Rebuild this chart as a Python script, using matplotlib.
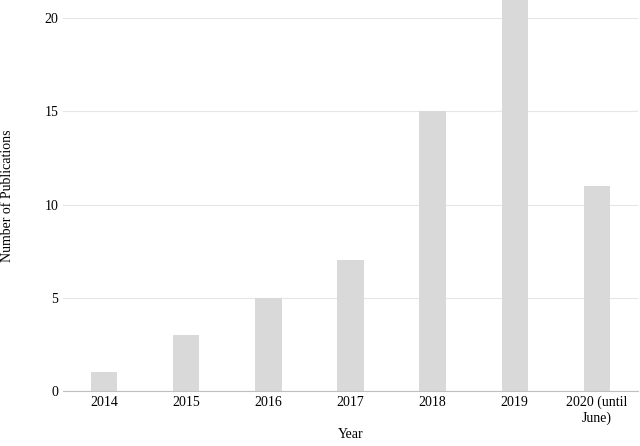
import matplotlib
matplotlib.use("Agg")
import matplotlib.pyplot as plt

years = ["2014", "2015", "2016", "2017", "2018", "2019", "2020 (until\nJune)"]
counts = [1, 3, 5, 7, 15, 21, 11]

plt.rcParams['font.family'] = ['Liberation Serif', 'DejaVu Serif']
fig = plt.figure(figsize=(6.4, 4.46), dpi=100)
ax = fig.add_axes([63/640, 1-391/446, (638-63)/640, 391/446])
x = range(len(years))
ax.bar(x, counts, width=0.32, color="#d9d9d9", zorder=2)
ax.set_xlim(-0.5, len(years)-0.5)
ax.set_ylim(0, 20.97)
ax.set_yticks([0, 5, 10, 15, 20])
ax.yaxis.grid(True, color="#e6e6e6", linewidth=0.8, zorder=0)
ax.set_xticks(list(x))
ax.set_xticklabels(years, fontsize=10)
ax.tick_params(axis='y', labelsize=10, length=0)
ax.tick_params(axis='x', length=0)
for s in ["top", "right", "left"]:
    ax.spines[s].set_visible(False)
ax.spines["bottom"].set_color("#bfbfbf")
ax.set_xlabel("Year", fontsize=10, labelpad=2)
ax.set_ylabel("Number of Publications", fontsize=10, labelpad=22)
fig.savefig("out.png", dpi=100)
